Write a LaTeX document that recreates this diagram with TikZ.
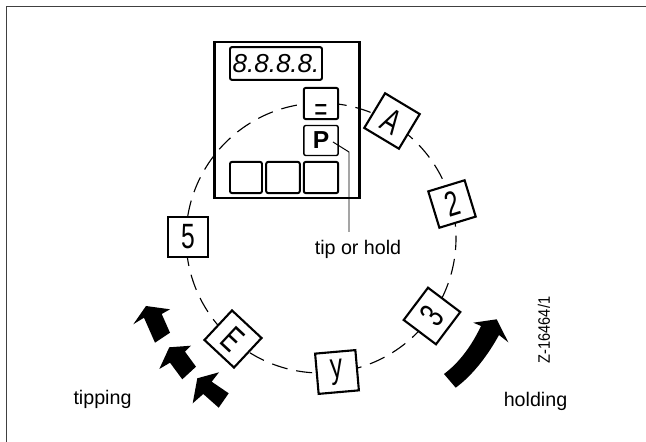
\documentclass[tikz,border=0pt]{standalone}
\usepackage{fontspec}
\usepackage{graphicx}
\setmainfont{Liberation Sans}
\newcommand{\segglyph}[1]{\scalebox{0.7}[1]{\fontsize{25}{25}\selectfont #1}}

\begin{document}
\begin{tikzpicture}
  [x=0.25mm, y=-0.25mm,
   enode/.style={minimum size=0, inner sep=0},
   keybox/.style={draw=black, fill=white, line width=1.4pt, rounded corners=0.5mm, inner sep=0},
   digbox/.style={draw=black, fill=white, line width=1.5pt, minimum size=10.1mm, inner sep=0},
   caption/.style={enode, anchor=base, font=\fontsize{14}{14}\selectfont},
   blockarrow/.style={fill=black, draw=none}]
  \useasboundingbox (0, 0) rectangle (646, 442);

  % sheet edge
  \coordinate (edgebl) at (6.5, 442);
  \coordinate (edgetl) at (6.5, 6.5);
  \coordinate (edgetr) at (646, 6.5);
  \draw[line width=1.3pt, draw=black!75] (edgebl) -- (edgetl) -- (edgetr);

  % instrument front
  \node[draw=black, line width=1.6pt, minimum width=36.2mm, minimum height=39mm, inner sep=0] (panel) at (287, 120) {};
  \node[keybox, minimum width=23mm, minimum height=8.2mm, font=\fontsize{18.5}{18.5}\selectfont\itshape] (display) at (276, 63.5) {8.8.8.8.};

  % dashed ring
  \draw[line width=0.8pt, dash pattern=on 4mm off 2.25mm, dash phase=1mm] (321, 238) circle [radius=135];

  % keys on the front
  \node[keybox, minimum width=8.6mm, minimum height=7.8mm] (keyone) at (321, 103.5) {};
  \node[enode] (keyonesign) at (321, 113) {\scalebox{1}[1.45]{\fontsize{16}{16}\selectfont =}};
  \node[keybox, line width=1pt, minimum width=8.6mm, minimum height=7.5mm, font=\fontsize{17.5}{17.5}\selectfont\bfseries] (keyp) at (321, 140.5) {P};
  \node[keybox, minimum width=8mm, minimum height=7.8mm] (keyl) at (246, 177.5) {};
  \node[keybox, minimum width=8.4mm, minimum height=7.8mm] (keym) at (283, 177.5) {};
  \node[keybox, minimum width=8.6mm, minimum height=7.8mm] (keyr) at (321, 177.5) {};

  % positions on the ring
  \node[digbox, rotate=-31] (posa) at (392, 121) {\segglyph{A}};
  \node[digbox, rotate=17, minimum size=9.5mm] (postwo) at (452, 204) {\segglyph{2}};
  \node[digbox, rotate=53] (posthree) at (432, 316) {\segglyph{3}};
  \node[digbox, rotate=5] (posfour) at (337, 372) {\segglyph{y}};
  \node[digbox, rotate=-43] (pose) at (233, 339) {\segglyph{E}};
  \node[digbox] (posfive) at (188, 237) {\segglyph{5}};

  % tip or hold
  \node[caption] (tiphold) at (358, 255) {tip or hold};
  \coordinate (pstart) at (333, 142);
  \coordinate (pbend) at (349, 152);
  \coordinate (pend) at (349, 232);
  \draw[line width=0.7pt] (pstart) -- (pbend) -- (pend);

  % tipping arrows
  \fill[blockarrow] (146, 306) -- (170, 309.3) -- (161.7, 314) -- (170, 332.7) -- (155, 342.7) -- (144, 317.7) -- (133.3, 324.3) -- cycle;
  \fill[blockarrow] (169.3, 347.3) -- (191, 345.7) -- (185, 351.7) -- (196, 366.7) -- (182.3, 379.3) -- (170, 362.7) -- (159.3, 369) -- cycle;
  \fill[blockarrow] (197.3, 378.3) -- (219, 372.3) -- (211.7, 381.7) -- (228.7, 393.3) -- (218.7, 407.7) -- (203.3, 394) -- (192.7, 403.3) -- cycle;
  \node[caption] (tipping) at (102.5, 405) {tipping};

  % holding arrow
  \fill[blockarrow] (444, 374) .. controls (460, 362) and (472, 345) .. (481, 326)
    -- (473.3, 322.7) -- (496.7, 319.3) -- (508.3, 342.3) -- (499, 335)
    .. controls (488, 355) and (473, 375) .. (455.7, 387.7) -- cycle;
  \node[caption] (holding) at (535.5, 407) {holding};

  % drawing number
  \node[enode, rotate=90] (drawno) at (544, 330) {\scalebox{0.88}[1]{\fontsize{11.8}{11.8}\selectfont Z-16464/1}};
\end{tikzpicture}
\end{document}
